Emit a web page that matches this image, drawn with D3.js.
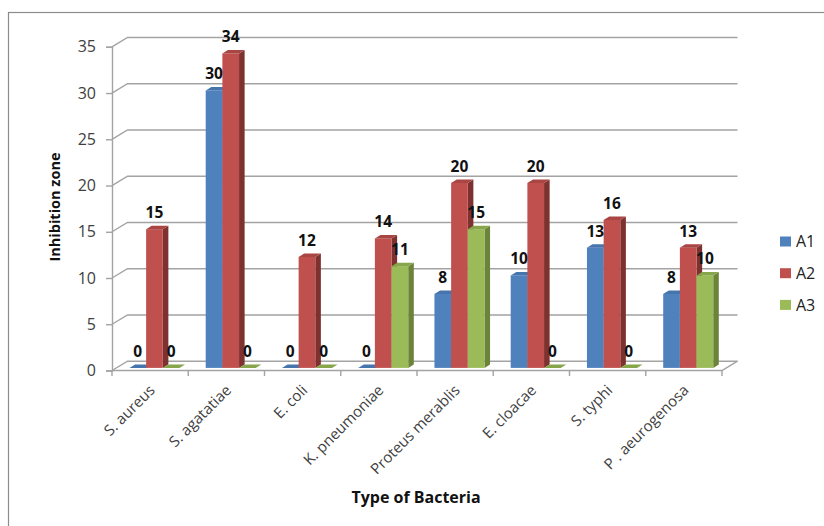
<!DOCTYPE html>
<html>
<head>
<meta charset="utf-8">
<script src="https://cdn.jsdelivr.net/npm/d3@7"></script>
<style>
  html, body { margin: 0; padding: 0; background: #fff; }
  svg { display: block; font-family: "Open Sans", "DejaVu Sans", sans-serif; }
</style>
</head>
<body>
<svg id="chart" width="824" height="526"></svg>
<script>
// Inhibition zone per bacterium for three extracts
const categories = ["S. aureus", "S. agatatiae", "E. coli", "K. pneumoniae",
                    "Proteus merablis", "E. cloacae", "S. typhi", "P . aeurogenosa"];
const seriesNames = ["A1", "A2", "A3"];
const valuesA1 = [0, 30, 0, 0, 8, 10, 13, 8];
const valuesA2 = [15, 34, 12, 14, 20, 20, 16, 13];
const valuesA3 = [0, 0, 0, 11, 15, 0, 0, 10];
const yTicks = [0, 5, 10, 15, 20, 25, 30, 35];

const seriesValues = [valuesA1, valuesA2, valuesA3];
const colors = {
  A1: { front: "#4F81BD", side: "#375C8A", top: "#4674AD" },
  A2: { front: "#C0504D", side: "#7E3230", top: "#A94542" },
  A3: { front: "#9BBB59", side: "#6B843A", top: "#87A64B" }
};

const svg = d3.select("#chart");

// chart frame
svg.append("rect")
  .attr("x", 8.5).attr("y", 12.5)
  .attr("width", 830).attr("height", 530)
  .attr("fill", "none").attr("stroke", "#8c8c8c").attr("stroke-width", 1.2);

// front plane scales
const x = d3.scaleBand().domain(categories).range([112, 722]).paddingInner(0).paddingOuter(0);
const y = d3.scaleLinear().domain([0, 35]).range([370.5, 46.8]);

// depth projection: offset of the back wall relative to the front plane
const DX = 15.5, DY = -9.3;
const proj = (px, py, d) => [px + d * DX, py + d * DY];

const groupWidth = x.bandwidth() * 0.656;
const xSub = d3.scaleBand().domain(seriesNames)
  .range([(x.bandwidth() - groupWidth) / 2, (x.bandwidth() + groupWidth) / 2]);

const grid = svg.append("g").attr("stroke", "#a3a3a3").attr("stroke-width", 1.4).attr("fill", "none");

// back-wall gridlines with side-wall diagonals
yTicks.forEach(t => {
  const yf = y(t);
  const [bx, by] = proj(112, yf, 1);
  grid.append("path").attr("d", `M${112},${yf}L${bx},${by}L${proj(722, yf, 1)[0]},${by}`);
});

// floor edges
grid.append("path").attr("d", `M112,${y(0)}L722,${y(0)}L${proj(722, y(0), 1)[0]},${proj(722, y(0), 1)[1]}`);

// y axis line and ticks
const yAxisG = svg.append("g").attr("transform", "translate(112,0)");
const yAxis = d3.axisLeft(y).tickValues(yTicks).tickSize(6).tickPadding(10);
yAxisG.call(yAxis);
yAxisG.select(".domain").attr("stroke", "#a3a3a3").attr("stroke-width", 1.4);
yAxisG.selectAll(".tick line").attr("stroke", "#a3a3a3").attr("stroke-width", 1.4);
yAxisG.selectAll(".tick text")
  .attr("fill", "#404040").style("font-size", "16px").style("font-family", "Open Sans");

// x axis ticks at category boundaries
const boundaries = categories.map(c => x(c)).concat([x.range()[1]]);
svg.append("g").selectAll("line").data(boundaries).join("line")
  .attr("x1", d => d).attr("x2", d => d)
  .attr("y1", y(0)).attr("y2", y(0) + 5.5)
  .attr("stroke", "#a3a3a3").attr("stroke-width", 1.4);

// bars
const D0 = 0.28, D1 = 0.64;
const bars = [];
categories.forEach((c, i) => {
  seriesNames.forEach((s, j) => {
    bars.push({ cat: c, series: s, value: seriesValues[j][i],
                x0: x(c) + xSub(s), x1: x(c) + xSub(s) + xSub.bandwidth() });
  });
});

const barG = svg.append("g");
bars.forEach(b => {
  const col = colors[b.series];
  const [fx0, fyTop] = proj(b.x0, y(b.value), D0);
  const [fx1] = proj(b.x1, y(b.value), D0);
  const [, fyBot] = proj(b.x0, y(0), D0);
  const [bx0, byTop] = proj(b.x0, y(b.value), D1);
  const [bx1] = proj(b.x1, y(b.value), D1);
  const [, byBot] = proj(b.x1, y(0), D1);
  const g = barG.append("g");
  if (b.value > 0) {
    g.append("path").attr("fill", col.side)
      .attr("d", `M${fx1},${fyTop}L${bx1},${byTop}L${bx1},${byBot}L${fx1},${fyBot}Z`);
    g.append("rect").attr("fill", col.front)
      .attr("x", fx0).attr("y", fyTop).attr("width", fx1 - fx0).attr("height", fyBot - fyTop);
  }
  g.append("path").attr("fill", col.top)
    .attr("d", `M${fx0},${fyTop}L${fx1},${fyTop}L${bx1},${byTop}L${bx0},${byTop}Z`);
});

// value labels
svg.append("g").selectAll("text").data(bars).join("text")
  .attr("x", d => proj((d.x0 + d.x1) / 2, y(d.value), D0)[0])
  .attr("y", d => proj(d.x0, y(d.value), D0)[1] - 11)
  .attr("text-anchor", "middle")
  .style("font-size", "15.5px").style("font-weight", "bold")
  .attr("fill", "#111")
  .text(d => d.value);

// category labels
svg.append("g").selectAll("text").data(categories).join("text")
  .attr("transform", c => `translate(${x(c) + x.bandwidth() / 2 + 2},${y(0) + 17}) rotate(-45)`)
  .attr("text-anchor", "end")
  .attr("dy", "0.35em")
  .style("font-size", "15px")
  .attr("fill", "#404040")
  .text(c => c);

// axis titles
svg.append("text")
  .attr("x", 416).attr("y", 503)
  .attr("text-anchor", "middle")
  .style("font-size", "16px").style("font-weight", "bold")
  .attr("fill", "#111")
  .text("Type of Bacteria");

svg.append("text")
  .attr("transform", "translate(60,207) rotate(-90)")
  .attr("text-anchor", "middle")
  .style("font-size", "14.5px").style("font-weight", "bold")
  .attr("fill", "#111")
  .text("Inhibition zone");

// legend
const legend = svg.append("g").selectAll("g").data(seriesNames).join("g")
  .attr("transform", (s, i) => `translate(780,${236.5 + i * 31.7})`);
legend.append("rect").attr("width", 11).attr("height", 10).attr("fill", s => colors[s].front);
legend.append("text")
  .attr("x", 16).attr("y", 5).attr("dy", "0.36em")
  .style("font-size", "16px").attr("fill", "#222")
  .text(s => s);
</script>
</body>
</html>
